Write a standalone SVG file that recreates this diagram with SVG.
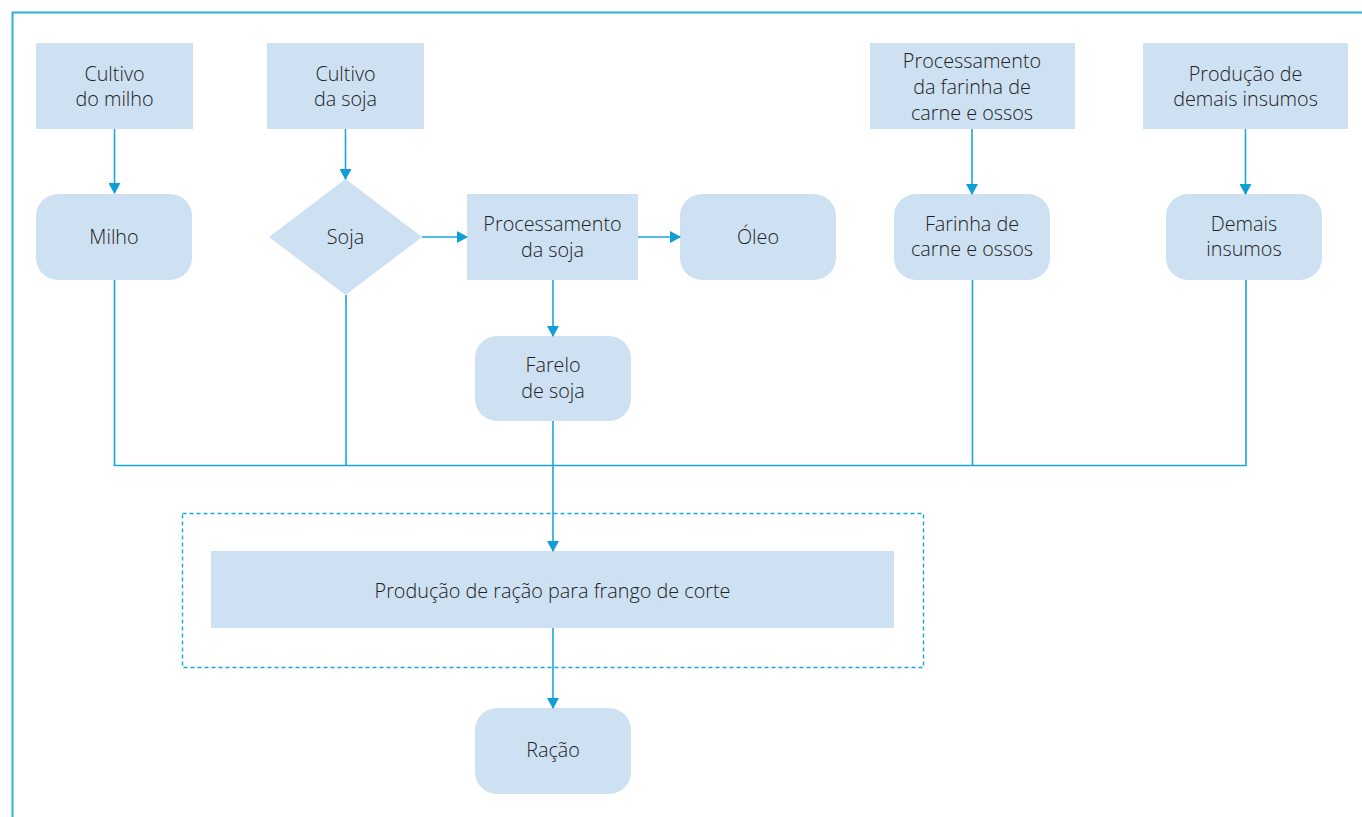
<svg xmlns="http://www.w3.org/2000/svg" width="1362" height="817" viewBox="0 0 1362 817">
<style>
.box{fill:#cde1f2}
.t{font-family:"Open Sans","Liberation Sans",sans-serif;font-weight:300;font-size:19.8px;fill:#222;text-anchor:middle}
.ln{stroke:#1ba6da;stroke-width:1.6;fill:none}
.ar{stroke:#1ba6da;stroke-width:1.6;fill:none;marker-end:url(#ah)}
</style>
<defs>
<marker id="ah" markerWidth="12" markerHeight="12" refX="10" refY="6" orient="auto" markerUnits="userSpaceOnUse">
<path d="M0,0 L11,6 L0,12 Z" fill="#0f9fd6"/>
</marker>
</defs>
<rect width="1362" height="817" fill="#fff"/>
<path d="M12.5,817 V12.5 H1362" stroke="#2db0e0" stroke-width="2" fill="none"/>
<g id="n-cultivo-milho"><rect class="box" x="36" y="43" width="157" height="86"/><text class="t" x="114.5" y="81">Cultivo</text><text class="t" x="114.5" y="106">do milho</text></g>
<g id="n-cultivo-soja"><rect class="box" x="267" y="43" width="157" height="86"/><text class="t" x="345.5" y="81">Cultivo</text><text class="t" x="345.5" y="106">da soja</text></g>
<g id="n-proc-farinha"><rect class="box" x="870" y="43" width="205" height="86"/><text class="t" x="972" y="68">Processamento</text><text class="t" x="972" y="94">da farinha de</text><text class="t" x="972" y="120">carne e ossos</text></g>
<g id="n-prod-insumos"><rect class="box" x="1143" y="43" width="205" height="86"/><text class="t" x="1245.5" y="81">Produção de</text><text class="t" x="1245.5" y="106">demais insumos</text></g>
<g id="n-milho"><rect class="box" x="36" y="194" width="156" height="86" rx="22"/><text class="t" x="114" y="244">Milho</text></g>
<g id="n-soja"><polygon class="box" points="345.5,179 422,237 345.5,295 269,237"/><text class="t" x="345.5" y="244">Soja</text></g>
<g id="n-proc-soja"><rect class="box" x="467" y="194" width="171" height="86"/><text class="t" x="552.5" y="231">Processamento</text><text class="t" x="552.5" y="257">da soja</text></g>
<g id="n-oleo"><rect class="box" x="680" y="194" width="156" height="86" rx="22"/><text class="t" x="758" y="244">Óleo</text></g>
<g id="n-farinha"><rect class="box" x="894" y="194" width="156" height="86" rx="22"/><text class="t" x="972" y="231">Farinha de</text><text class="t" x="972" y="256">carne e ossos</text></g>
<g id="n-demais"><rect class="box" x="1166" y="194" width="156" height="86" rx="22"/><text class="t" x="1244" y="231">Demais</text><text class="t" x="1244" y="256">insumos</text></g>
<g id="n-farelo"><rect class="box" x="475" y="336" width="156" height="85" rx="22"/><text class="t" x="553" y="372">Farelo</text><text class="t" x="553" y="398">de soja</text></g>
<g id="n-grupo"><rect x="182.5" y="513.5" width="741" height="154" fill="none" stroke="#1ba6da" stroke-width="1.4" stroke-dasharray="4,3"/></g>
<g id="n-prod-racao"><rect class="box" x="211" y="551" width="683" height="77"/><text class="t" x="552.5" y="598">Produção de ração para frango de corte</text></g>
<g id="n-racao"><rect class="box" x="475" y="708" width="156" height="86" rx="22"/><text class="t" x="553" y="757">Ração</text></g>
<g id="connectors">
<line class="ar" x1="114.5" y1="129" x2="114.5" y2="193"/>
<line class="ar" x1="345.5" y1="129" x2="345.5" y2="179"/>
<line class="ar" x1="422" y1="237" x2="467" y2="237"/>
<line class="ar" x1="638" y1="237" x2="680" y2="237"/>
<line class="ar" x1="553" y1="280" x2="553" y2="336"/>
<line class="ar" x1="972" y1="129" x2="972" y2="194"/>
<line class="ar" x1="1245.5" y1="129" x2="1245.5" y2="194"/>
<path class="ln" d="M114.5,280 V465.5 H1246 V280"/>
<line class="ln" x1="346" y1="295" x2="346" y2="465.5"/>
<line class="ln" x1="972.5" y1="280" x2="972.5" y2="465.5"/>
<line class="ar" x1="553" y1="421" x2="553" y2="551"/>
<line class="ar" x1="553" y1="628" x2="553" y2="708"/>
</g>
</svg>
